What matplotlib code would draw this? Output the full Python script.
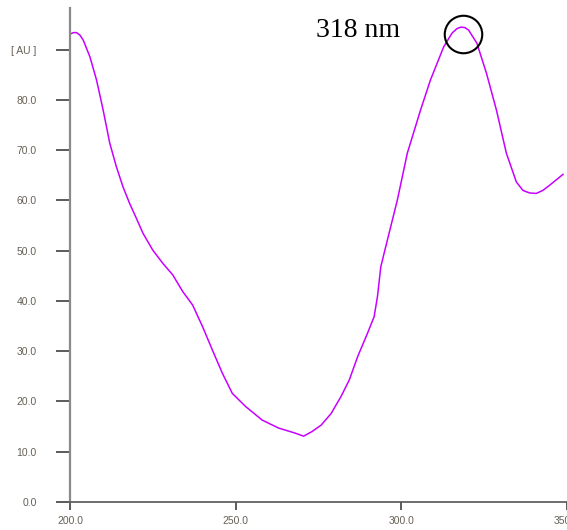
import matplotlib
matplotlib.use("Agg")
import matplotlib.pyplot as plt
import numpy as np

# absorbance spectrum
wavelength = [200.0, 201.0, 202.0, 203.0, 204.0, 206.0, 208.0, 210.0, 212.0, 214.0,
              216.0, 218.0, 220.0, 222.0, 225.0, 228.0, 231.0, 234.0, 237.0, 240.0,
              243.0, 246.0, 249.0, 253.0, 258.0, 263.0, 268.0, 270.5, 273.0, 275.8,
              278.8, 281.8, 284.3, 286.8, 289.8, 291.8, 292.8, 293.8, 294.8, 296.8,
              298.8, 301.8, 305.8, 308.8, 312.8, 315.3, 316.8, 318.0, 319.2, 320.3,
              322.8, 325.7, 328.7, 331.7, 334.7, 336.7, 338.7, 340.7, 342.7, 344.7,
              348.8]
absorbance = [93.1, 93.4, 93.4, 92.9, 91.9, 88.6, 84.0, 78.0, 71.4, 66.7,
              62.7, 59.4, 56.5, 53.5, 50.1, 47.5, 45.2, 41.9, 39.2, 34.9,
              30.2, 25.6, 21.6, 19.0, 16.3, 14.7, 13.7, 13.1, 14.0, 15.3,
              17.6, 21.0, 24.3, 28.9, 33.6, 36.9, 40.9, 46.8, 49.5, 54.8,
              60.1, 69.4, 78.0, 84.0, 90.6, 93.3, 94.2, 94.5, 94.4, 93.9,
              91.3, 85.3, 78.0, 69.4, 63.7, 62.0, 61.5, 61.4, 62.0, 63.0,
              65.2]

y_ticks = [0, 10, 20, 30, 40, 50, 60, 70, 80, 90]
y_labels = ["0.0", "10.0", "20.0", "30.0", "40.0", "50.0", "60.0", "70.0", "80.0", "[ AU ]"]
x_ticks = [200, 250, 300, 350]
x_labels = ["200.0", "250.0", "300.0", "350.0"]

peak_x = 318.5
peak_y = 93.2
peak_label = "318 nm"

W, H = 567, 530
fig = plt.figure(figsize=(W / 100, H / 100), dpi=100)
fig.patch.set_facecolor("white")
ax = fig.add_axes([70 / W, (H - 502) / H, (W - 70) / W, (502 - 8) / H])

ax.plot(wavelength, absorbance, color="#c800ff", lw=1.1)

# circle round the maximum
ax.plot([peak_x], [peak_y], marker="o", ms=27, mfc="none", mec="black", mew=1.5,
        clip_on=False)
ax.text(0.58, 0.955, peak_label, transform=ax.transAxes, fontsize=20,
        family="Liberation Serif", ha="center", va="center", color="black")

ax.set_xlim(200, 200 + (W - 70) / 3.34)
ax.set_ylim(0, 98.3)

ax.set_yticks(y_ticks)
ax.set_yticklabels(y_labels)
ax.set_xticks(x_ticks)
ax.set_xticklabels(x_labels)

for lbl in ax.get_xticklabels() + ax.get_yticklabels():
    lbl.set_family("Liberation Sans")
    lbl.set_fontsize(7.5)
    lbl.set_color("#666055")
for lbl in ax.get_xticklabels():
    lbl.set_clip_on(False)

ax.tick_params(axis="y", direction="out", length=10, width=1.2, color="#404040", pad=14)
ax.tick_params(axis="x", direction="out", length=6, width=1.2, color="#404040", pad=4)

for side in ["top", "right"]:
    ax.spines[side].set_visible(False)
ax.spines["left"].set_color("#8a8a8a")
ax.spines["left"].set_linewidth(1.6)
ax.spines["bottom"].set_color("#555555")
ax.spines["bottom"].set_linewidth(1.2)

fig.savefig("out.png", dpi=100)
plt.close(fig)
